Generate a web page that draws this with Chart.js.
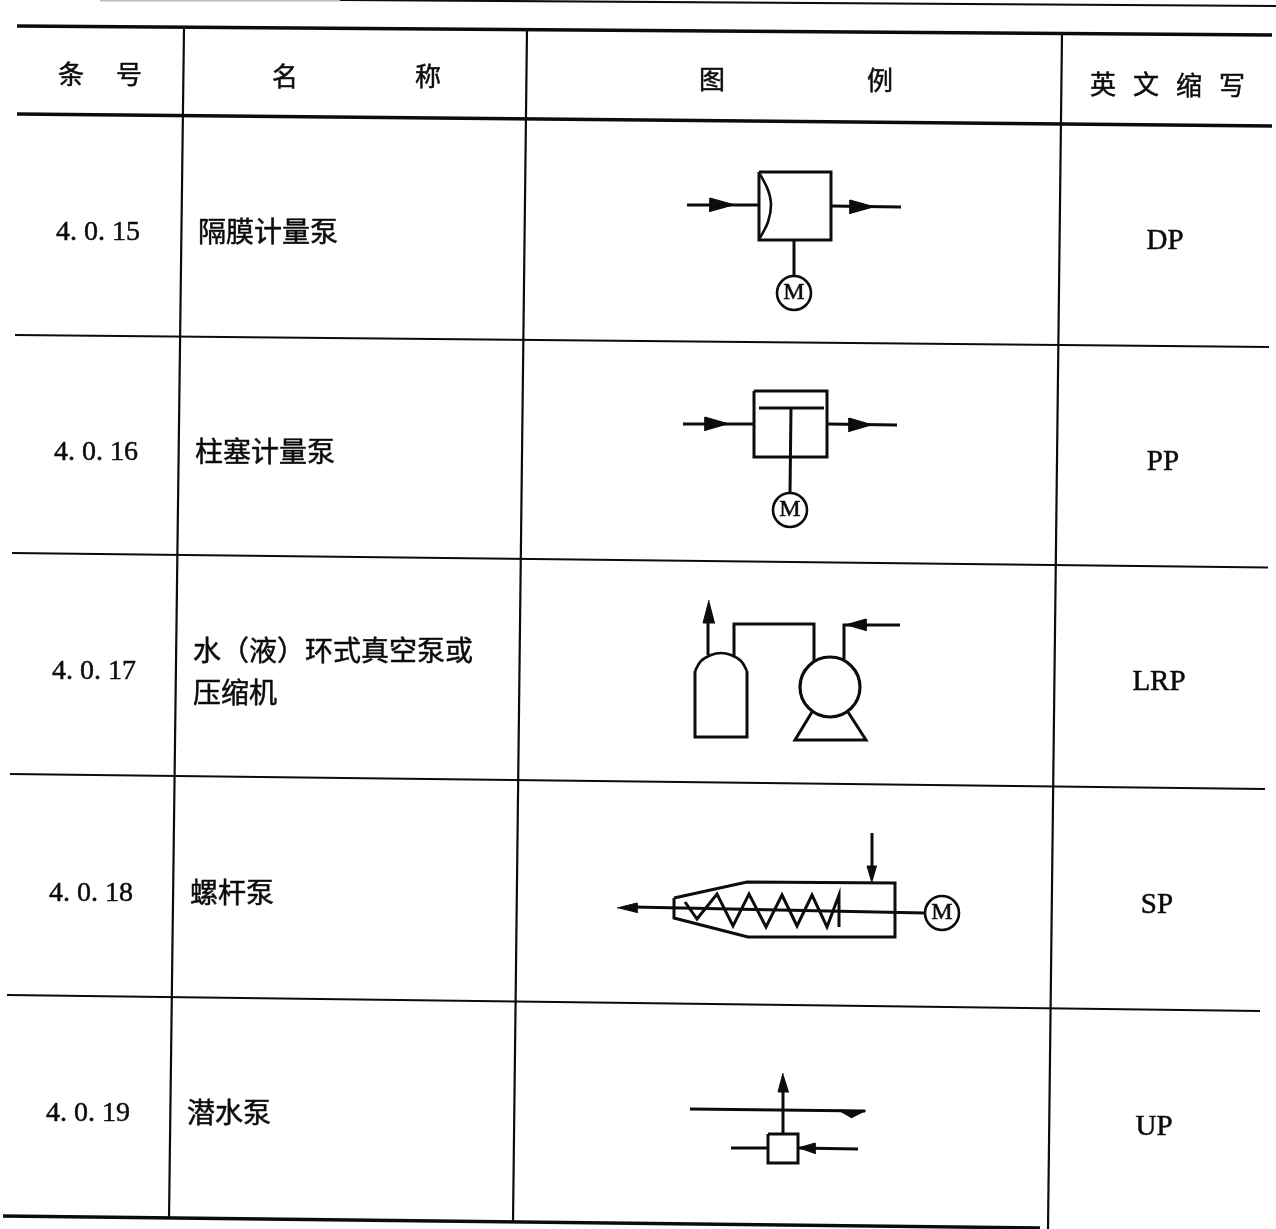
<!DOCTYPE html>
<html>
<head>
<meta charset="utf-8">
<title>泵类图例</title>
<script src="https://cdn.jsdelivr.net/npm/chart.js@4/dist/chart.umd.min.js"></script>
<style>
  html, body { margin: 0; padding: 0; background: #fff; }
  canvas { display: block; }
</style>
</head>
<body>
<canvas id="legendTable" width="1276" height="1229"></canvas>
<script>
// Table text
const headerLabels = ['条', '号', '名', '称', '图', '例', '英', '文', '缩', '写'];
const itemNumbers = ['4. 0. 15', '4. 0. 16', '4. 0. 17', '4. 0. 18', '4. 0. 19'];
const itemNames = ['隔膜计量泵', '柱塞计量泵', '水（液）环式真空泵或', '压缩机', '螺杆泵', '潜水泵'];
const abbreviations = ['DP', 'PP', 'LRP', 'SP', 'UP'];

// Where the text sits, in picture coordinates
const headerSpots = [[71, 74], [129, 74], [285, 76], [428, 76], [712, 79], [880, 80], [1103, 84], [1146, 84], [1189, 85], [1232, 85]];
const numberSpots = [[56, 233], [54, 453], [52, 672], [49, 894], [46, 1114]];
const nameSpots = [[198, 231], [195, 451], [193, 650], [193, 692], [190, 892], [187, 1112]];
const abbrSpots = [[1165, 241], [1163, 462], [1159, 682], [1157, 905], [1154, 1127]];
const motorSpots = [[794, 293], [790, 510], [942, 913]];

// Table rules
const heavyRules = [
  [[17, 26], [1272, 35]],
  [[17, 114], [1272, 126]],
  [[3, 1216], [1040, 1228]]
];
const thinRules = [
  [[340, 0], [1276, 6]],
  [[15, 335], [1269, 347]],
  [[12, 553], [1268, 567.5]],
  [[10, 774], [1265, 789]],
  [[7, 995], [1260, 1011]],
  [[184, 28], [169, 1219]],
  [[527, 29], [513, 1222]],
  [[1062, 33], [1048, 1229]]
];
// Faded end of the page rule at the very top
const fadedRules = [
  [[100, 0], [340, 0]]
];

// Symbol outlines
const symbolLines = [
  // 4.0.15
  [[687, 205], [759, 205]],
  [[759, 172], [831, 172], [831, 240], [759, 240], [759, 172]],
  [[831, 206], [901, 207]],
  [[794, 240], [794, 276]],
  // 4.0.16
  [[683, 424], [754, 424]],
  [[754, 391], [827, 391], [827, 457], [754, 457], [754, 391]],
  [[827, 424], [897, 425]],
  [[759, 408], [824, 408]],
  [[791, 408], [790, 493]],
  // 4.0.17
  [[708, 655], [708, 620]],
  [[734, 656], [734, 624], [814, 624], [814, 661]],
  [[844, 660], [844, 625], [900, 625]],
  [[695, 671], [695, 737], [747, 737], [747, 671]],
  [[812, 712], [795, 740], [866, 740], [848, 712]],
  // 4.0.18
  [[674, 898], [747, 882], [895, 883], [895, 937], [748, 937], [674, 918], [674, 898]],
  [[633, 907], [925, 913]],
  [[872, 833], [872, 870]],
  [[685, 902], [697, 919], [717, 894], [733, 926], [749, 894], [766, 927], [782, 895], [797, 926], [812, 895], [827, 927], [839, 895], [839, 927]],
  // 4.0.19
  [[690, 1109], [865, 1111]],
  [[783, 1133], [783, 1090]],
  [[768, 1134], [798, 1134], [798, 1163], [768, 1163], [768, 1134]],
  [[731, 1148], [768, 1148]],
  [[798, 1148], [858, 1149]]
];

// Curved parts, smoothed by the line element
const symbolCurves = [
  [[760, 174], [768, 190], [771, 205], [768, 222], [760, 238]],
  [[695, 671], [701, 661], [711, 655], [721, 653], [731, 655], [741, 661], [747, 671]]
];

const arrowHeads = [
  [[735, 205], [710, 198], [710, 212]],
  [[875, 207], [850, 200], [850, 214]],
  [[729, 424], [705, 417], [705, 431]],
  [[873, 425], [849, 418], [849, 432]],
  [[709, 600], [703, 623], [715, 623]],
  [[845, 625], [866, 619], [866, 631]],
  [[617, 908], [637, 903], [637, 913]],
  [[872, 883], [867, 866], [877, 866]],
  [[866, 1111], [838, 1110], [852, 1118]],
  [[783, 1073], [778, 1092], [789, 1092]],
  [[798, 1148], [815, 1143], [815, 1154]]
];

const motorCircles = motorSpots;
const pumpCircles = [[830, 687]];

const INK = '#0c0c0c';
const CJK = '"Noto Sans CJK SC", sans-serif';
const LATIN = '"Liberation Serif", serif';

function toPoints(list) {
  return list.map(function (p) { return { x: p[0], y: p[1] }; });
}

function lineSet(list, width, tension, color) {
  return {
    data: toPoints(list),
    showLine: true,
    borderColor: color || INK,
    borderWidth: width,
    tension: tension || 0,
    pointRadius: 0,
    fill: false
  };
}

function circleSet(list, radius, width) {
  return {
    data: toPoints(list),
    showLine: false,
    pointStyle: 'circle',
    pointRadius: radius,
    pointBorderWidth: width,
    pointBorderColor: INK,
    pointBackgroundColor: 'rgba(0,0,0,0)'
  };
}

function headSet(list) {
  return {
    data: toPoints(list),
    showLine: true,
    borderColor: INK,
    borderWidth: 1,
    backgroundColor: INK,
    pointRadius: 0,
    fill: 'shape'
  };
}

const datasets = [];
heavyRules.forEach(function (r) { datasets.push(lineSet(r, 3.4)); });
thinRules.forEach(function (r) { datasets.push(lineSet(r, 2.2)); });
fadedRules.forEach(function (r) { datasets.push(lineSet(r, 3, 0, '#bdbdbd')); });
symbolLines.forEach(function (s) { datasets.push(lineSet(s, 3)); });
symbolCurves.forEach(function (s) { datasets.push(lineSet(s, 2.6, 0.4)); });
arrowHeads.forEach(function (a) { datasets.push(headSet(a)); });
datasets.push(circleSet(motorCircles, 17, 2.6));
datasets.push(circleSet(pumpCircles, 30, 3.2));

// Cell text goes through the scales too
const tableText = {
  id: 'tableText',
  afterDatasetsDraw: function (chart) {
    const ctx = chart.ctx;
    const x = chart.scales.x;
    const y = chart.scales.y;

    function put(text, spot, font, align) {
      const px = x.getPixelForValue(spot[0]);
      const py = y.getPixelForValue(spot[1]);
      ctx.font = font;
      ctx.textAlign = align;
      ctx.fillText(text, px, py);
      ctx.strokeText(text, px, py);
    }

    ctx.save();
    ctx.fillStyle = INK;
    ctx.strokeStyle = INK;
    ctx.lineWidth = 0.5;
    ctx.textBaseline = 'middle';
    headerLabels.forEach(function (t, i) { put(t, headerSpots[i], '26px ' + CJK, 'center'); });
    itemNumbers.forEach(function (t, i) { put(t, numberSpots[i], '28px ' + LATIN, 'left'); });
    itemNames.forEach(function (t, i) { put(t, nameSpots[i], '28px ' + CJK, 'left'); });
    abbreviations.forEach(function (t, i) { put(t, abbrSpots[i], '29px ' + LATIN, 'center'); });
    motorSpots.forEach(function (s) { put('M', s, '24px ' + LATIN, 'center'); });
    ctx.restore();
  }
};

new Chart(document.getElementById('legendTable').getContext('2d'), {
  type: 'scatter',
  data: { datasets: datasets },
  options: {
    responsive: false,
    animation: false,
    layout: { padding: 0, autoPadding: false },
    plugins: {
      legend: { display: false },
      tooltip: { enabled: false }
    },
    scales: {
      x: { type: 'linear', min: 0, max: 1276, display: false },
      y: { type: 'linear', min: 0, max: 1229, reverse: true, display: false }
    }
  },
  plugins: [tableText]
});
</script>
</body>
</html>
